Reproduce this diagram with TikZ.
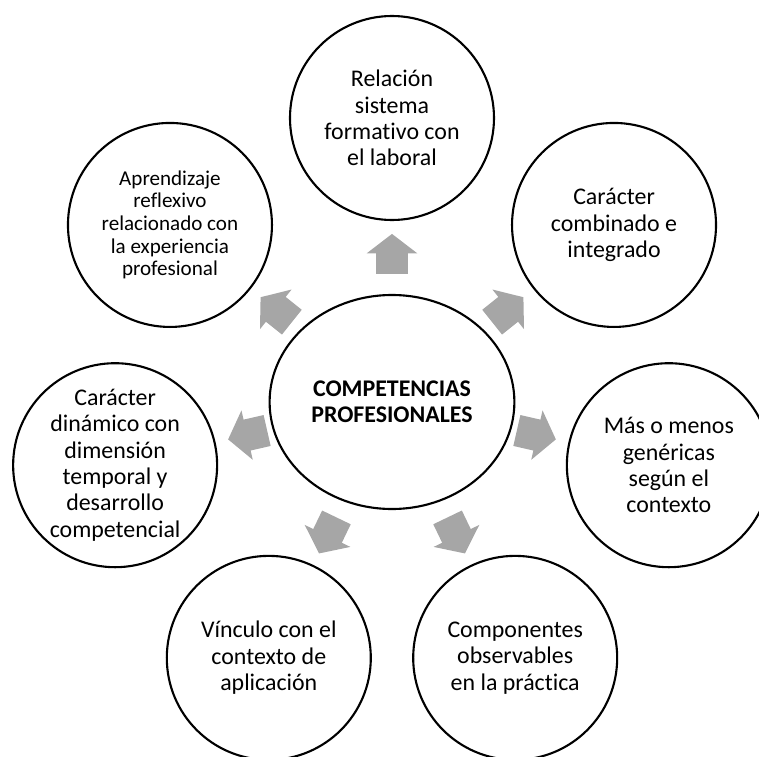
\documentclass[tikz,border=0pt]{standalone}
\usepackage{fontspec}
\setmainfont{Carlito}[Ligatures=NoCommon]
\usetikzlibrary{shapes.geometric}
\usetikzlibrary{shapes.arrows}
\definecolor{flechagris}{RGB}{166,166,166}

\begin{document}
\begin{tikzpicture}[
    outer/.style={circle, draw, line width=1.2pt, minimum size=4.08cm, inner sep=0pt, align=center, font=\fontsize{13.6}{15}\selectfont},
    core/.style={ellipse, draw, line width=1.2pt, minimum width=4.8cm, minimum height=4.28cm, align=center, font=\fontsize{13.6}{15}\selectfont\bfseries},
    flecha/.style={single arrow, fill=flechagris, draw=none, inner xsep=0pt, inner ysep=.31cm, single arrow head extend=.19cm, single arrow tip angle=105, minimum height=.8cm}
]
    \useasboundingbox (-7.84, -7.08) rectangle (7.34, 8.04);
    \node[core] (central) at (0, 0) {COMPETENCIAS\\PROFESIONALES};
    % the seven features round the core
    \node[outer] (relacion) at (90:5.68) {Relación\\sistema\\formativo con\\el laboral};
    \node[outer] (combinado) at (38.57:5.68) {Carácter\\combinado e\\integrado};
    \node[outer] (genericas) at (-12.86:5.68) {Más o menos\\genéricas\\según el\\contexto};
    \node[outer] (componentes) at (-64.29:5.68) {Componentes\\observables\\en la práctica};
    \node[outer] (vinculo) at (-115.71:5.68) {Vínculo con el\\contexto de\\aplicación};
    \node[outer] (dinamico) at (-167.14:5.68) {Carácter\\dinámico con\\dimensión\\temporal y\\desarrollo\\competencial};
    \node[outer, font=\fontsize{12}{12.9}\selectfont] (aprendizaje) at (141.43:5.68) {Aprendizaje\\reflexivo\\relacionado con\\la experiencia\\profesional};
    % arrows
    \node[flecha, rotate=90] (fRelacion) at (90:2.84) {};
    \node[flecha, rotate=38.57] (fCombinado) at (38.57:2.84) {};
    \node[flecha, rotate=-12.86] (fGenericas) at (-12.86:2.84) {};
    \node[flecha, rotate=-64.29] (fComponentes) at (-64.29:2.84) {};
    \node[flecha, rotate=-115.71] (fVinculo) at (-115.71:2.84) {};
    \node[flecha, rotate=-167.14] (fDinamico) at (-167.14:2.84) {};
    \node[flecha, rotate=141.43] (fAprendizaje) at (141.43:2.84) {};
\end{tikzpicture}
\end{document}
